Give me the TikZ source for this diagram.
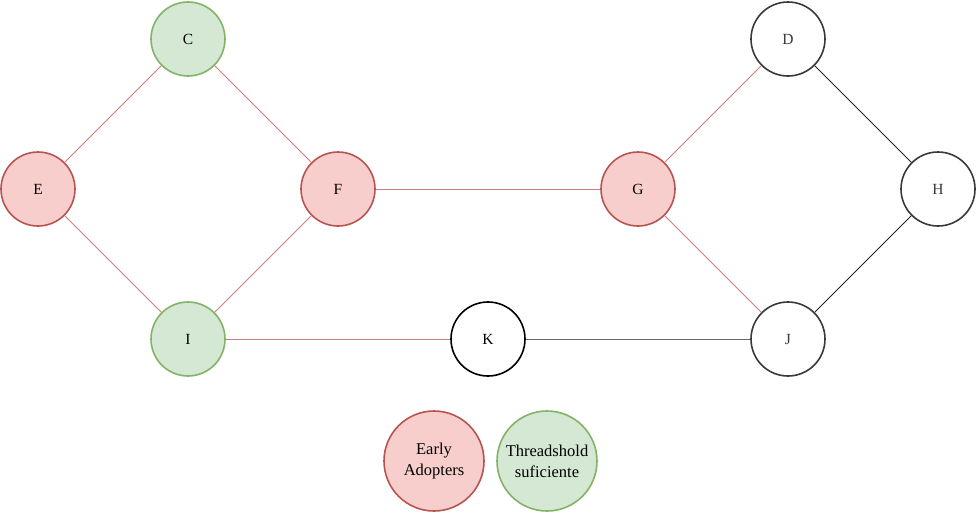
\documentclass[tikz,border=0pt]{standalone}
\usepackage{fontspec}
\setmainfont{Liberation Serif}
\definecolor{redfill}{HTML}{F8CECC}
\definecolor{redline}{HTML}{B85450}
\definecolor{greenfill}{HTML}{D5E8D4}
\definecolor{greenline}{HTML}{82B366}
\definecolor{grayline}{HTML}{36393D}
\tikzset{
  agent/.style={circle, draw, line width=1.6pt, minimum size=74pt, inner sep=0pt,
    font=\fontsize{15.5}{18}\selectfont, align=center},
  adopter/.style={agent, fill=redfill, draw=redline},
  enough/.style={agent, fill=greenfill, draw=greenline},
  idle/.style={agent, draw=grayline, text=grayline},
  legend/.style={minimum size=100pt, font=\fontsize{16.5}{21}\selectfont},
  spread/.style={draw=redline!75, line width=0.9pt},
  plain/.style={draw=black!85, line width=0.9pt}
}
\begin{document}
\begin{tikzpicture}[x=1pt, y=-1pt]
    \useasboundingbox (0, 0) rectangle (977, 512);
    \node[enough] (C) at (188, 39) {C};
    \node[adopter] (E) at (38, 189) {E};
    \node[adopter] (F) at (338, 189) {F};
    \node[enough] (I) at (188, 339) {I};
    \node[adopter] (G) at (638, 189) {G};
    \node[idle] (D) at (788, 39) {D};
    \node[idle] (H) at (938, 189) {H};
    \node[idle] (J) at (788, 339) {J};
    \node[agent, draw=black] (K) at (488, 339) {K};
    \node[adopter, legend] (early) at (434, 461) {Early\\Adopters};
    \node[enough, legend] (threshold) at (547, 461) {Threadshold\\suficiente};
    \begin{scope}[spread]
      \draw (C) -- (E);
      \draw (C) -- (F);
      \draw (E) -- (I);
      \draw (F) -- (I);
      \draw (F) -- (G);
      \draw (G) -- (D);
      \draw (G) -- (J);
      \draw (I) -- (K);
    \end{scope}
    \begin{scope}[plain]
      \draw (D) -- (H);
      \draw (H) -- (J);
      \draw[draw=black!60] (K) -- (J);
    \end{scope}
  \end{tikzpicture}
\end{document}
